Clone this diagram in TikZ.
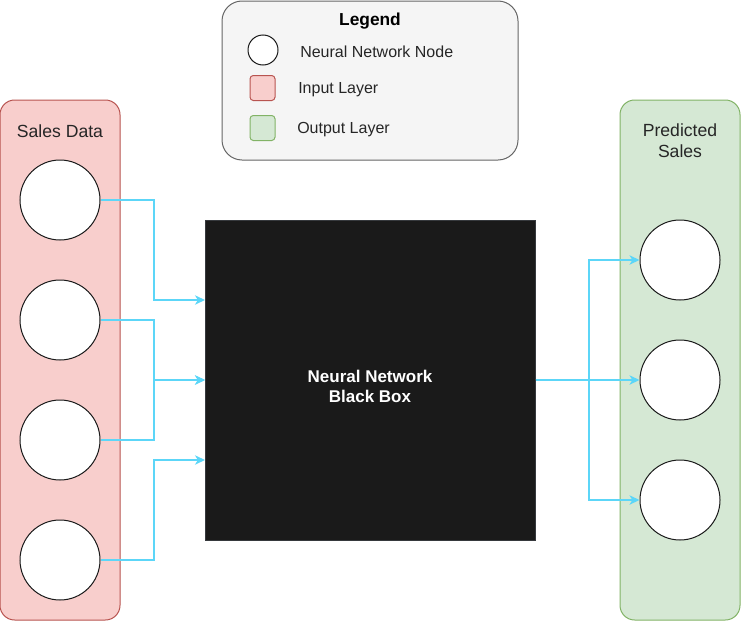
\documentclass[tikz,border=0pt]{standalone}
\usepackage{fontspec}
\setmainfont{Liberation Sans}
\usetikzlibrary{arrows.meta}
\definecolor{linkblue}{HTML}{5CD6F8}
\definecolor{inFill}{HTML}{F8CECC}
\definecolor{inLine}{HTML}{B85450}
\definecolor{outFill}{HTML}{D5E8D4}
\definecolor{outLine}{HTML}{82B366}
\definecolor{boxFill}{HTML}{1A1A1A}
\definecolor{boxLine}{HTML}{36393D}
\definecolor{legFill}{HTML}{F5F5F5}
\definecolor{legLine}{HTML}{666666}
\begin{document}
\begin{tikzpicture}[x=0.75pt,y=-0.75pt]
  \tikzset{NeuronStyle/.style = {shape=circle,draw=boxFill,fill=white,line width=0.75pt,minimum size=60pt,inner sep=0pt},
    PanelStyle/.style = {shape=rectangle,rounded corners=11pt,line width=0.75pt,minimum width=90pt,minimum height=390pt,inner sep=0pt},
    LinkStyle/.style = {draw=linkblue,line width=1.5pt,-{Stealth[length=7.5pt,width=7pt,inset=2.2pt]}},
    TextStyle/.style = {font=\fontsize{13.2}{15.8}\selectfont,text=black!85,align=center,inner sep=0pt},
    KeyStyle/.style = {font=\fontsize{12}{14}\selectfont,text=black!85,anchor=west,inner sep=0pt}}
\useasboundingbox (0,0) rectangle (741,621);
%
\node[PanelStyle,fill=inFill,draw=inLine] (inpanel) at (60,360) {};
\node[PanelStyle,fill=outFill,draw=outLine] (outpanel) at (680,360) {};
\node[TextStyle] (intitle) at (60,131) {Sales Data};
\node[TextStyle] (outtitle) at (680,141) {Predicted\\Sales};
%
\node[NeuronStyle] (in1) at (60,200) {};
\node[NeuronStyle] (in2) at (60,320) {};
\node[NeuronStyle] (in3) at (60,440) {};
\node[NeuronStyle] (in4) at (60,560) {};
\node[NeuronStyle] (out1) at (680,260) {};
\node[NeuronStyle] (out2) at (680,380) {};
\node[NeuronStyle] (out3) at (680,500) {};
%
\node[shape=rectangle,fill=boxFill,draw=boxLine,line width=0.75pt,minimum width=247.5pt,minimum height=240pt] (box) at (370,380) {};
\node[text=white,align=center,inner sep=0pt,font=\bfseries\fontsize{12.75}{15}\selectfont] (boxtext) at (370,386) {Neural Network\\Black Box};
\coordinate (b1) at (205,300);
\coordinate (b2) at (205,380);
\coordinate (b3) at (205,460);
%
\draw[LinkStyle] (in1.east) -- ++(53,0) |- (b1);
\draw[LinkStyle] (in2.east) -- ++(53,0) |- (b2);
\draw[LinkStyle] (in3.east) -- ++(53,0) |- (b2);
\draw[LinkStyle] (in4.east) -- ++(53,0) |- (b3);
\draw[LinkStyle] (box.east) -- ++(53,0) |- (out1.west);
\draw[LinkStyle] (box.east) -- (out2.west);
\draw[LinkStyle] (box.east) -- ++(53,0) |- (out3.west);
%
\node[shape=rectangle,rounded corners=15pt,fill=legFill,draw=legLine,line width=0.75pt,
  minimum width=222pt,minimum height=119.25pt] (legend) at (370,80.5) {};
\node[font=\bfseries\fontsize{13}{15}\selectfont,inner sep=0pt] (legtitle) at (370,21.5) {Legend};
\node[NeuronStyle,minimum size=22.5pt] (keynode) at (263,50) {};
\node[shape=rectangle,rounded corners=2.5pt,fill=inFill,draw=inLine,line width=0.75pt,minimum size=18.75pt] (keyin) at (262.5,88) {};
\node[shape=rectangle,rounded corners=2.5pt,fill=outFill,draw=outLine,line width=0.75pt,minimum size=18.75pt] (keyout) at (262.5,128) {};
\node[KeyStyle] (keynodetext) at (300,52) {Neural Network Node};
\node[KeyStyle] (keyintext) at (298,89.5) {Input Layer};
\node[KeyStyle] (keyouttext) at (297,129.5) {Output Layer};
\end{tikzpicture}
\end{document}
